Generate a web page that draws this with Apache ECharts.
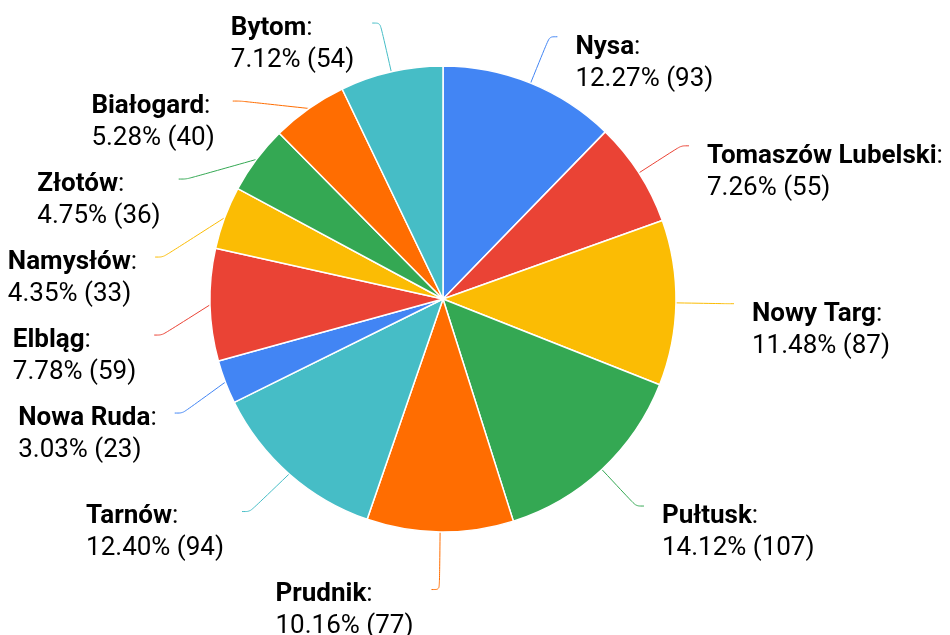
<!DOCTYPE html>
<html><head><meta charset="utf-8">
<script src="https://cdn.jsdelivr.net/npm/echarts@6/dist/echarts.min.js"></script>
<style>html,body{margin:0;padding:0;background:#fff;overflow:hidden;width:950px;height:635px}#c{position:absolute;left:-100px;top:-60px;width:1150px;height:755px}</style>
</head><body><div id="c"></div>
<script>
const cities = ['Nysa','Tomaszów Lubelski','Nowy Targ','Pułtusk','Prudnik','Tarnów','Nowa Ruda','Elbląg','Namysłów','Złotów','Białogard','Bytom'];
const counts = [93,55,87,107,77,94,23,59,33,36,40,54];
const palette = ['#4285F4','#EA4335','#FBBC04','#34A853','#FF6D01','#46BDC6'];
const total = counts.reduce((a,b)=>a+b,0);
// which half of the pie each label sits on (derived from the data)
const leftSide = [];
let acc = 0;
counts.forEach(function(v){ leftSide.push((acc + v/2)/total*360 > 180); acc += v; });

const base = {fontFamily:'Roboto', fontSize:26, color:'#000', align:'left', verticalAlign:'middle'};
const chart = echarts.init(document.getElementById('c'), null, {renderer:'canvas'});
chart.setOption({
  animation:false,
  color: palette,
  series:[{
    type:'pie',
    center:[543, 359],
    radius:233,
    startAngle:90, clockwise:true,
    avoidLabelOverlap:true,
    itemStyle:{borderColor:'#fff', borderWidth:1.5},
    label:{
      show:true, position:'outside',
      formatter:function(p){
        const s = leftSide[p.dataIndex] ? 'l' : 'r';
        return '{b'+s+'|'+p.name+'}{c'+s+'|:}\n{v'+s+'|'+(p.value/total*100).toFixed(2)+'% ('+p.value+')}\n{e'+s+'| }';
      },
      distanceToLabelLine:0, lineHeight:18, bleedMargin:0,
      fontFamily:'Roboto', fontSize:26, color:'#000',
      padding:[0,18,0,18], backgroundColor:'rgba(255,255,255,0)',
      rich:{
        br:Object.assign({}, base, {fontWeight:'bold', lineHeight:21}),
        cr:Object.assign({}, base, {lineHeight:21}),
        vr:Object.assign({}, base, {lineHeight:43}),
        er:Object.assign({}, base, {fontSize:2, lineHeight:9}),
        bl:Object.assign({}, base, {fontWeight:'bold', lineHeight:10}),
        cl:Object.assign({}, base, {lineHeight:10}),
        vl:Object.assign({}, base, {lineHeight:54}),
        el:Object.assign({}, base, {fontSize:2, lineHeight:4})
      }
    },
    labelLine:{show:true, length:50, length2:8, smooth:0.3, lineStyle:{width:1}},
    labelLayout:{verticalAlign:'top'},
    emphasis:{disabled:true},
    data: cities.map((n,i)=>({name:n, value:counts[i]}))
  }]
});
</script></body></html>
